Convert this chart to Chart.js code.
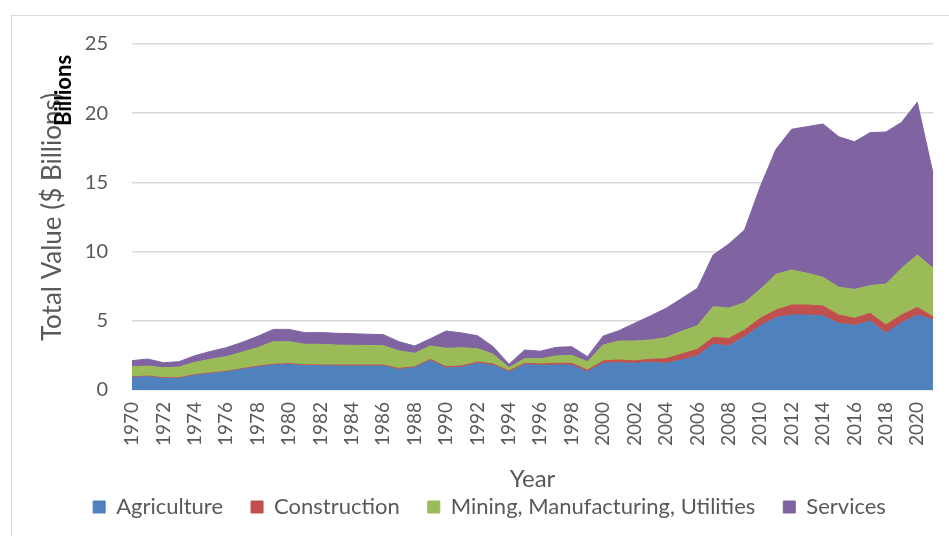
<!DOCTYPE html>
<html>
<head>
<meta charset="utf-8">
<script src="https://cdn.jsdelivr.net/npm/chart.js@4.4.1/dist/chart.umd.min.js"></script>
<style>
  html, body { margin: 0; padding: 0; background: #fff; overflow: hidden; }
  canvas { display: block; }
</style>
</head>
<body>
<canvas id="valueChart" width="949" height="536"></canvas>
<script>
const years = [];
for (let y = 1970; y <= 2021; y++) years.push(String(y));

// $ billions
const agriculture = [0.90, 0.96, 0.84, 0.84, 1.06, 1.18, 1.30, 1.49, 1.66, 1.80,
  1.85, 1.76, 1.75, 1.73, 1.73, 1.73, 1.73, 1.49, 1.61, 2.14,
  1.59, 1.64, 1.93, 1.78, 1.30, 1.83, 1.78, 1.81, 1.80, 1.32,
  1.93, 1.97, 1.93, 2.00, 1.93, 2.17, 2.46, 3.32, 3.18, 3.85,
  4.62, 5.23, 5.42, 5.42, 5.35, 4.82, 4.67, 4.98, 4.10, 4.86,
  5.42, 5.06];
const construction = [0.05, 0.05, 0.05, 0.05, 0.05, 0.05, 0.05, 0.05, 0.06, 0.06,
  0.06, 0.06, 0.06, 0.07, 0.07, 0.07, 0.07, 0.07, 0.07, 0.07,
  0.10, 0.10, 0.10, 0.10, 0.08, 0.10, 0.10, 0.12, 0.13, 0.12,
  0.17, 0.20, 0.17, 0.22, 0.33, 0.43, 0.48, 0.48, 0.54, 0.49,
  0.56, 0.55, 0.72, 0.72, 0.72, 0.60, 0.51, 0.56, 0.60, 0.56,
  0.55, 0.24];
const mining = [0.73, 0.72, 0.72, 0.77, 0.89, 0.99, 1.06, 1.18, 1.34, 1.63,
  1.58, 1.48, 1.49, 1.45, 1.42, 1.42, 1.40, 1.26, 0.97, 0.97,
  1.32, 1.32, 0.95, 0.70, 0.23, 0.33, 0.37, 0.53, 0.57, 0.61,
  1.15, 1.37, 1.44, 1.39, 1.52, 1.64, 1.71, 2.22, 2.20, 1.97,
  2.09, 2.58, 2.53, 2.29, 2.07, 2.00, 2.09, 2.00, 2.96, 3.37,
  3.78, 3.49];
const services = [0.44, 0.51, 0.36, 0.39, 0.48, 0.57, 0.65, 0.72, 0.82, 0.89,
  0.89, 0.84, 0.85, 0.85, 0.85, 0.81, 0.80, 0.67, 0.53, 0.53,
  1.25, 1.06, 0.94, 0.55, 0.25, 0.63, 0.55, 0.62, 0.63, 0.36,
  0.65, 0.75, 1.28, 1.74, 2.12, 2.38, 2.70, 3.73, 4.63, 5.25,
  7.42, 9.03, 10.17, 10.60, 11.08, 10.88, 10.67, 11.06, 10.98, 10.55,
  11.04, 6.87];

const textColor = '#595959';
Chart.defaults.font.family = 'Lato, "Liberation Sans", sans-serif';

function area(label, data, color, fill) {
    return {
        label: label,
        data: data,
        backgroundColor: color,
        borderColor: color,
        borderWidth: 1,
        pointRadius: 0,
        tension: 0,
        fill: fill
    };
}

// frame round the chart, bold "Billions" unit label, legend nudge
const extras = {
    id: 'extras',
    afterLayout(chart) {
        chart.legend.left += 23;
        chart.legend.right += 23;
    },
    beforeDraw(chart) {
        const ctx = chart.ctx;
        ctx.save();
        ctx.strokeStyle = '#d9d9d9';
        ctx.lineWidth = 1;
        ctx.strokeRect(11.5, 15.5, 1000, 1000);
        ctx.restore();
    },
    afterDraw(chart) {
        const ctx = chart.ctx;
        ctx.save();
        ctx.translate(63.5, 90.5);
        ctx.rotate(-Math.PI / 2);
        ctx.font = 'bold 22px Lato, "Liberation Sans", sans-serif';
        ctx.fillStyle = '#000';
        ctx.textAlign = 'center';
        ctx.textBaseline = 'middle';
        ctx.fillText('Billions', 0, 0);
        ctx.restore();
    }
};

const ctx = document.getElementById('valueChart').getContext('2d');
const chart = new Chart(ctx, {
    type: 'line',
    data: {
        labels: years,
        datasets: [
            area('Agriculture', agriculture, '#4F81BD', 'origin'),
            area('Construction', construction, '#C0504D', '-1'),
            area('Mining, Manufacturing, Utilities', mining, '#9BBB59', '-1'),
            area('Services', services, '#8064A2', '-1')
        ]
    },
    options: {
        responsive: false,
        animation: false,
        layout: { padding: { left: 0, right: 16, top: 44, bottom: 8 } },
        plugins: {
            legend: {
                position: 'bottom',
                labels: {
                    color: textColor,
                    font: { size: 22 },
                    boxWidth: 12,
                    boxHeight: 12,
                    padding: 28
                }
            },
            tooltip: { enabled: false }
        },
        scales: {
            x: {
                offset: false,
                grid: { display: false, drawTicks: false },
                border: { display: false },
                ticks: {
                    autoSkip: false,
                    minRotation: 90,
                    maxRotation: 90,
                    padding: 12,
                    color: textColor,
                    font: { size: 19 },
                    callback: function (value, index) {
                        return index % 2 === 0 ? this.getLabelForValue(value) : '';
                    }
                },
                title: {
                    display: true,
                    text: 'Year',
                    color: textColor,
                    font: { size: 24 },
                    padding: { top: 0, bottom: -26 }
                },
                afterFit(scale) {
                    scale.height = 78;
                    scale.paddingLeft = 0;
                    scale.paddingRight = 0;
                }
            },
            y: {
                stacked: true,
                min: 0,
                max: 25,
                ticks: { stepSize: 5, padding: 24, color: textColor, font: { size: 20 } },
                grid: { color: '#d9d9d9', lineWidth: 1.5, drawTicks: false },
                border: { display: false },
                title: {
                    display: true,
                    text: 'Total Value ($ Billions)',
                    color: textColor,
                    font: { size: 26 },
                    padding: { top: 37, bottom: 0 }
                },
                afterFit(scale) { scale.width = 132; }
            }
        }
    },
    plugins: [extras]
});
</script>
</body>
</html>
